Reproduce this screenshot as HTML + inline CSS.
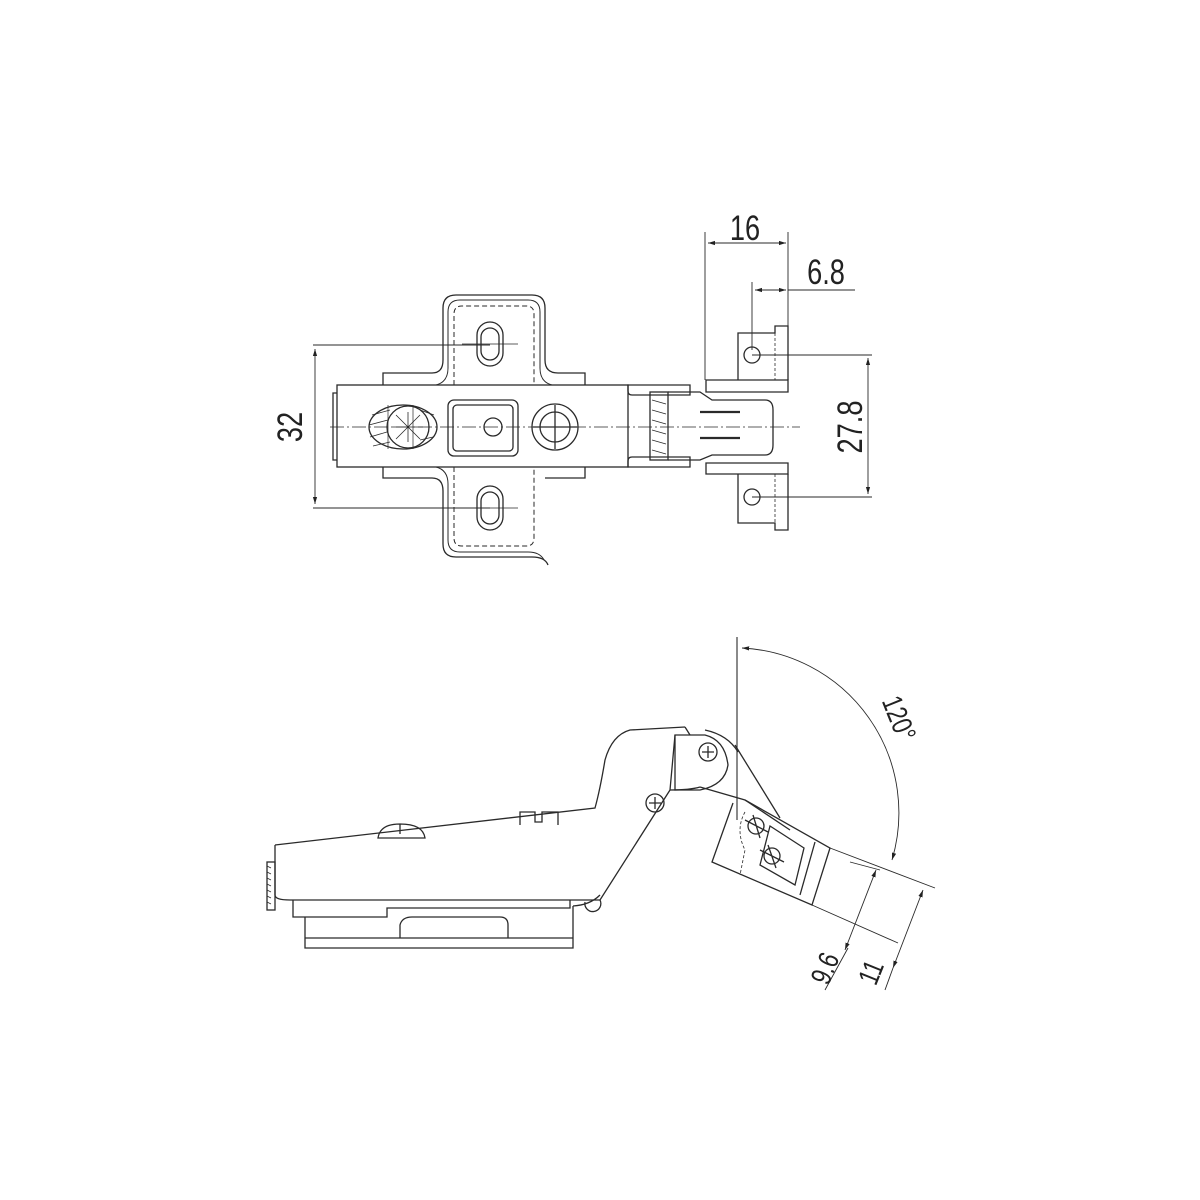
<!DOCTYPE html>
<html><head><meta charset="utf-8"><style>
html,body{margin:0;padding:0;background:#fff;}
svg{display:block}
text{font-family:"Liberation Sans",sans-serif;fill:#222;}
</style></head><body>
<svg width="1200" height="1200" viewBox="0 0 1200 1200" xmlns="http://www.w3.org/2000/svg">
<defs>
<marker id="a" viewBox="0 0 10 10" refX="10" refY="5" markerWidth="8" markerHeight="8" orient="auto-start-reverse"><path d="M0,2 L10,5 L0,8 z" fill="#222"/></marker>
</defs>
<g fill="none" stroke="#2a2a2a" stroke-width="1.3">
<!-- TOP VIEW -->
<path d="M383,385 V373 H432 Q443,373 443,360 V308 Q443,295 456,295 H532 Q545,295 545,308 V360 Q545,373 558,373 H585 V385"/>
<path d="M436,385 Q448,382 448,368 V312 Q448,300 460,300 H528 Q540,300 540,312 V368 Q540,382 552,385" stroke-width="1"/>
<path d="M383,467 V478 H432 Q443,478 443,491 V544 Q443,557 456,557 H532 Q545,557 548,565"/>
<path d="M436,467 Q448,470 448,484 V540 Q448,552 460,552 H528 Q540,552 544,560" stroke-width="1"/>
<path d="M545,478 H585 V467"/>
<path d="M454,385 V314 Q454,306 462,306 H526 Q534,306 534,314 V385" stroke-dasharray="5,3" stroke-width="1"/>
<path d="M454,467 V538 Q454,546 462,546 H526 Q534,546 534,538 V467" stroke-dasharray="5,3" stroke-width="1"/>
<rect x="477" y="322" width="26" height="44" rx="13"/>
<rect x="481" y="328" width="18" height="32" rx="9"/>
<rect x="477" y="486" width="26" height="44" rx="13"/>
<rect x="481" y="492" width="18" height="32" rx="9"/>
<path d="M462,344 H518 M462,508 H518" stroke-width="0.8"/>
<rect x="337" y="385" width="291" height="82"/>
<path d="M337,393 H333 V460 H337"/>
<ellipse cx="403" cy="427" rx="34" ry="22"/>
<path d="M372,415 L390,410 M369,425 L388,420 M370,437 L387,432 M373,446 L390,442 M420,410 L434,415 M420,440 L433,437" stroke-width="0.8"/>
<circle cx="408" cy="427" r="21"/>
<path d="M396,415 L420,439 M396,439 L420,415 M393,427 H423 M408,412 V442" stroke-width="0.8"/>
<path d="M388,405 V449 M413,405 V449" stroke-width="0.7"/>
<rect x="448" y="400" width="70" height="56" rx="6"/>
<rect x="453" y="405" width="60" height="46" rx="4"/>
<circle cx="493" cy="427" r="9"/>
<circle cx="555" cy="427" r="23"/>
<circle cx="555" cy="427" r="15"/>
<path d="M555,405 V449 M533,427 H577"/>
<path d="M628,385 H690 V395 H632 Q628,395 628,391 Z"/>
<path d="M628,467 H690 V457 H632 Q628,457 628,461 Z"/>
<rect x="650" y="392" width="18" height="68"/>
<path d="M652,400 L666,404 M652,410 L666,414 M652,420 L666,424 M652,430 L666,434 M652,440 L666,444 M652,450 L666,454" stroke-width="0.7"/>
<path d="M668,392 H700 L712,400 H765 Q773,400 773,410 V445 Q773,455 765,455 H712 L700,460 H668"/>
<path d="M700,412 H740 M700,438 H740" stroke-width="2.2"/>
<path d="M706,380 H788 V392 H706 Z"/>
<path d="M706,463 H788 V474 H706 Z"/>
<path d="M738,380 V333 H775 V326 H788 V380"/>
<path d="M738,474 V523 H775 V530 H788 V474"/>
<path d="M775,333 V380 M775,474 V523" stroke-dasharray="3,2" stroke-width="0.8"/>
<circle cx="752" cy="355" r="8"/><circle cx="752" cy="497" r="8"/>
<path d="M313,345 H490 M313,508 H490" stroke-width="0.9"/>
<path d="M315,349 V504" stroke-width="0.9" marker-start="url(#a)" marker-end="url(#a)"/>
<path d="M330,427 H800" stroke-width="0.8" stroke-dasharray="14,3,2,3"/>
<path d="M705,232 V380 M788,232 V330" stroke-width="0.9"/>
<path d="M708,243 H786" stroke-width="0.9" marker-start="url(#a)" marker-end="url(#a)"/>
<path d="M752,282 V350" stroke-width="0.9"/>
<path d="M788,290 H855" stroke-width="0.9"/>
<path d="M755,290 H786" stroke-width="0.9" marker-start="url(#a)" marker-end="url(#a)"/>
<path d="M752,355 H872 M752,497 H872" stroke-width="0.9"/>
<path d="M868,358 V494" stroke-width="0.9" marker-start="url(#a)" marker-end="url(#a)"/>

<!-- SIDE VIEW -->
<path d="M737,637 V820" stroke-width="1.1"/>
<path d="M742,648 A165,165 0 0 1 892,860" stroke-width="0.9" marker-start="url(#a)" marker-end="url(#a)"/>
<path d="M275,845 L595,808 Q600,790 605,760 Q612,735 630,730 L685,727"/>
<path d="M275,845 V895 Q275,900 290,900 H600 L670,790 L675,735"/>
<path d="M685,727 L690,735 M670,790 Q690,790 700,787"/>
<rect x="267" y="862" width="8" height="48"/>
<path d="M267,866 l4,2 M267,872 l4,2 M267,878 l4,2 M267,884 l4,2 M267,890 l4,2 M267,896 l4,2 M267,902 l4,2" stroke-width="0.7"/>
<path d="M293,900 V917 H387 V908 H570 V900"/>
<path d="M305,917 V948 H573 V906"/>
<path d="M305,938 H573 M400,938 V925 Q402,917 412,917 H500 Q508,917 508,925 V938"/>
<path d="M573,906 Q590,905 600,895 M585,902 A8,8 0 1 0 600,900"/>
<path d="M378,838 Q380,824 400,824 Q423,824 425,838 Z M400,824 V834"/>
<path d="M520,825 V812 H535 V822 H542 V812 H558 V825"/>
<path d="M675,735 H705 Q725,740 728,765 Q725,785 700,790 H675 Z"/>
<path d="M705,730 Q728,735 738,752"/>
<circle cx="655" cy="803" r="9"/><path d="M649,803 H661 M655,797 V809"/>
<circle cx="708" cy="752" r="9"/><path d="M702,752 H714 M708,746 V758"/>
<path d="M700,787 L745,800 L830,848 L812,905 L712,862 L733,803"/>
<path d="M745,800 L790,830"/>
<path d="M735,745 L780,818"/>
<path d="M770,826 L804,848 L795,885 L760,865 Z"/>
<path d="M815,842 L800,895"/>
<circle cx="756" cy="826" r="8"/><path d="M745,820 L768,832 M753,815 L760,838"/>
<circle cx="772" cy="856" r="8"/><path d="M760,850 L784,862 M768,845 L776,868"/>
<path d="M745,812 Q735,830 745,850 L740,875" stroke-dasharray="3,2" stroke-width="0.8"/>
<path d="M830,848 L935,888 M812,905 L898,943 M850,862 L880,870" stroke-width="0.9"/>
<path d="M876,870 L845,950" stroke-width="0.9" marker-start="url(#a)" marker-end="url(#a)"/>
<path d="M923,890 L893,968" stroke-width="0.9" marker-start="url(#a)" marker-end="url(#a)"/>
<path d="M848,948 L825,990 M893,968 L885,990" stroke-width="0.9"/>
</g>
<g font-size="32">
<text transform="translate(745,240) scale(0.85,1.1)" text-anchor="middle">16</text>
<text transform="translate(826,284) scale(0.85,1.1)" text-anchor="middle">6.8</text>
<text transform="translate(302,427) rotate(-90) scale(0.85,1.1)" text-anchor="middle">32</text>
<text transform="translate(862,427) rotate(-90) scale(0.85,1.1)" text-anchor="middle">27.8</text>
</g>
<g font-size="26">
<text transform="translate(890,722) rotate(68) scale(0.85,1.1)" text-anchor="middle">120°</text>
<text transform="translate(834,972) rotate(-68) scale(0.85,1.1)" text-anchor="middle">9.6</text>
<text transform="translate(880,976) rotate(-68) scale(0.85,1.1)" text-anchor="middle">11</text>
</g>
</svg>
</body></html>
